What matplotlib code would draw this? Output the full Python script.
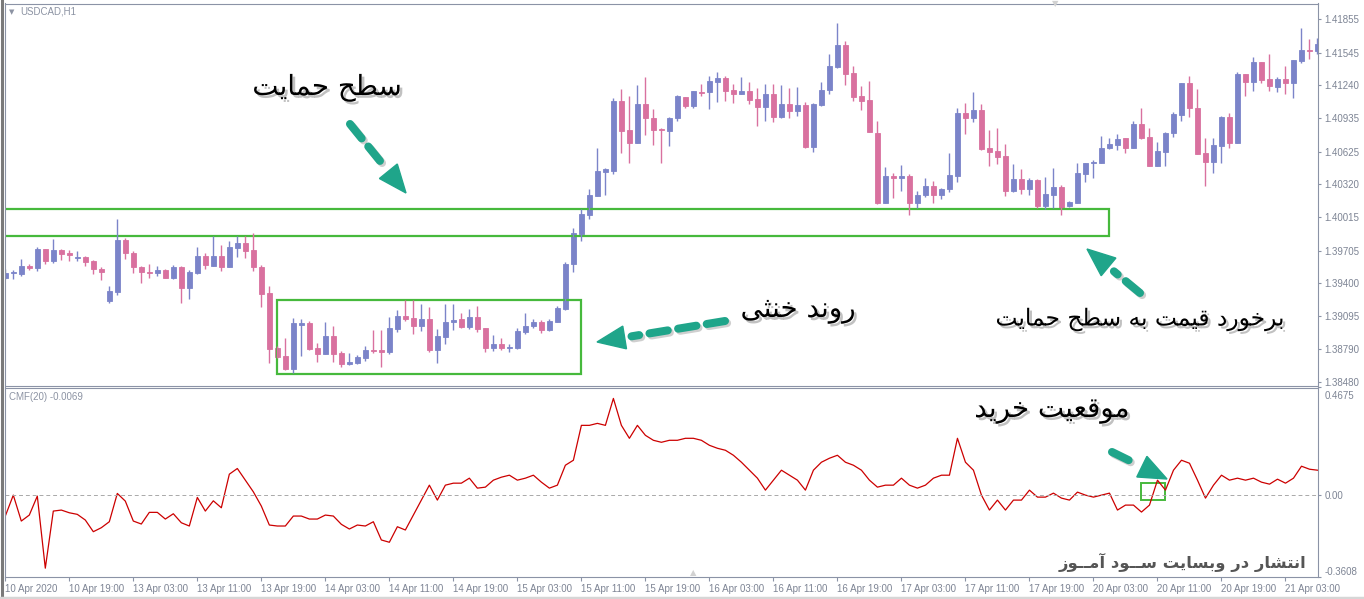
import matplotlib
matplotlib.use('Agg')
import matplotlib.pyplot as plt
import matplotlib.patheffects as pe
from matplotlib.lines import Line2D
from matplotlib.patches import Rectangle, Polygon
from matplotlib.transforms import ScaledTranslation
import numpy as np
import pandas as pd

# USDCAD H1 candles (10 Apr 11:00 .. 21 Apr 07:00)
opens = [1.39447, 1.39496, 1.39487, 1.39561, 1.39545, 1.39717, 1.39608, 1.39710, 1.39682, 1.39636,
         1.39648, 1.39610, 1.39533, 1.39238, 1.39322, 1.39803, 1.39679, 1.39552, 1.39505, 1.39499,
         1.39524, 1.39452, 1.39552, 1.39359, 1.39499, 1.39654, 1.39564, 1.39654, 1.39555, 1.39731,
         1.39775, 1.39710, 1.39552, 1.39310, 1.38796, 1.38727, 1.38606, 1.39015, 1.39031, 1.38799,
         1.38740, 1.38910, 1.38749, 1.38650, 1.38659, 1.38708, 1.38780, 1.38780, 1.38764, 1.38978,
         1.39096, 1.39078, 1.39006, 1.39068, 1.38780, 1.38904, 1.39043, 1.39065, 1.38997, 1.39090,
         1.38982, 1.38801, 1.38833, 1.38801, 1.38801, 1.38945, 1.39006, 1.39038, 1.38966, 1.39043,
         1.39161, 1.39577, 1.39859, 1.40036, 1.40215, 1.40438, 1.40445, 1.41098, 1.40826, 1.40708,
         1.41068, 1.40935, 1.40835, 1.40819, 1.40935, 1.41130, 1.41052, 1.41182, 1.41182, 1.41275,
         1.41307, 1.41195, 1.41164, 1.41186, 1.41114, 1.41043, 1.41158, 1.40950, 1.41065, 1.41006,
         1.41059, 1.40665, 1.41059, 1.41198, 1.41415, 1.41617, 1.41353, 1.41142, 1.41102, 1.40801,
         1.40150, 1.40395, 1.40382, 1.40395, 1.40150, 1.40219, 1.40302, 1.40222, 1.40277, 1.40401,
         1.40981, 1.40935, 1.41012, 1.40656, 1.40631, 1.40584, 1.40262, 1.40370, 1.40274, 1.40361,
         1.40119, 1.40222, 1.40293, 1.40122, 1.40150, 1.40417, 1.40516, 1.40522, 1.40656, 1.40687,
         1.40749, 1.40661, 1.40882, 1.40758, 1.40494, 1.40624, 1.40795, 1.40966, 1.41260, 1.41028,
         1.40609, 1.40531, 1.40680, 1.40950, 1.40708, 1.41344, 1.41275, 1.41456, 1.41300, 1.41229,
         1.41300, 1.41266, 1.41470, 1.41573, 1.41564]
highs = [1.39533, 1.39524, 1.39626, 1.39580, 1.39741, 1.39722, 1.39812, 1.39717, 1.39710, 1.39698,
         1.39654, 1.39617, 1.39555, 1.39372, 1.39998, 1.39819, 1.39701, 1.39564, 1.39577, 1.39558,
         1.39533, 1.39571, 1.39558, 1.39524, 1.39741, 1.39679, 1.39843, 1.39757, 1.39791, 1.39840,
         1.39840, 1.39871, 1.39568, 1.39372, 1.38817, 1.38889, 1.39075, 1.39071, 1.39050, 1.38842,
         1.39041, 1.39006, 1.38773, 1.38749, 1.38730, 1.38817, 1.38966, 1.38966, 1.39090, 1.39152,
         1.39245, 1.39245, 1.39205, 1.39183, 1.38972, 1.39208, 1.39205, 1.39121, 1.39158, 1.39192,
         1.38982, 1.38920, 1.38894, 1.38836, 1.38982, 1.39127, 1.39068, 1.39059, 1.39068, 1.39189,
         1.39601, 1.39912, 1.40089, 1.40280, 1.40661, 1.40470, 1.41121, 1.41207, 1.41142, 1.41245,
         1.41319, 1.41019, 1.40842, 1.40950, 1.41152, 1.41136, 1.41189, 1.41251, 1.41328, 1.41363,
         1.41331, 1.41254, 1.41319, 1.41275, 1.41219, 1.41254, 1.41254, 1.41245, 1.41219, 1.41229,
         1.41084, 1.41077, 1.41275, 1.41530, 1.41824, 1.41654, 1.41424, 1.41235, 1.41282, 1.40910,
         1.40485, 1.40423, 1.40500, 1.40417, 1.40259, 1.40382, 1.40352, 1.40289, 1.40609, 1.41033,
         1.41080, 1.41182, 1.41065, 1.40826, 1.40842, 1.40693, 1.40510, 1.40463, 1.40377, 1.40370,
         1.40386, 1.40470, 1.40315, 1.40166, 1.40522, 1.40516, 1.40547, 1.40770, 1.40754, 1.40789,
         1.40749, 1.40910, 1.41033, 1.40842, 1.40717, 1.40810, 1.40991, 1.41260, 1.41328, 1.41207,
         1.40749, 1.40749, 1.40959, 1.40981, 1.41363, 1.41344, 1.41502, 1.41456, 1.41530, 1.41316,
         1.41421, 1.41477, 1.41772, 1.41670, 1.41679]
lows = [1.39440, 1.39443, 1.39468, 1.39524, 1.39517, 1.39580, 1.39592, 1.39617, 1.39608, 1.39608,
        1.39564, 1.39490, 1.39434, 1.39220, 1.39294, 1.39629, 1.39499, 1.39406, 1.39452, 1.39465,
        1.39452, 1.39440, 1.39220, 1.39254, 1.39490, 1.39533, 1.39564, 1.39517, 1.39555, 1.39648,
        1.39638, 1.39515, 1.39183, 1.38662, 1.38706, 1.38594, 1.38563, 1.38727, 1.38777, 1.38671,
        1.38740, 1.38671, 1.38625, 1.38640, 1.38650, 1.38680, 1.38749, 1.38619, 1.38743, 1.38950,
        1.39052, 1.38929, 1.38959, 1.38764, 1.38662, 1.38836, 1.38966, 1.38982, 1.38975, 1.38950,
        1.38759, 1.38773, 1.38780, 1.38759, 1.38787, 1.38926, 1.38988, 1.38935, 1.38959, 1.39038,
        1.39152, 1.39503, 1.39794, 1.39998, 1.40215, 1.40222, 1.40420, 1.40609, 1.40516, 1.40702,
        1.40780, 1.40687, 1.40516, 1.40680, 1.40910, 1.41028, 1.41028, 1.41142, 1.41021, 1.41084,
        1.41096, 1.41074, 1.41158, 1.41065, 1.40866, 1.40910, 1.40903, 1.40935, 1.40935, 1.40959,
        1.40656, 1.40624, 1.41052, 1.41158, 1.41400, 1.41245, 1.41096, 1.41012, 1.40805, 1.40141,
        1.40145, 1.40196, 1.40259, 1.40036, 1.40103, 1.40200, 1.40150, 1.40182, 1.40247, 1.40340,
        1.40786, 1.40903, 1.40640, 1.40494, 1.40507, 1.40215, 1.40247, 1.40228, 1.40222, 1.40103,
        1.40091, 1.40103, 1.40036, 1.40113, 1.40145, 1.40343, 1.40382, 1.40516, 1.40647, 1.40640,
        1.40609, 1.40661, 1.40742, 1.40494, 1.40494, 1.40494, 1.40763, 1.40910, 1.40950, 1.40600,
        1.40308, 1.40423, 1.40516, 1.40661, 1.40702, 1.41145, 1.41189, 1.41260, 1.41192, 1.41182,
        1.41161, 1.41126, 1.41446, 1.41484, 1.41530]
closes = [1.39499, 1.39503, 1.39561, 1.39543, 1.39719, 1.39608, 1.39710, 1.39676, 1.39661, 1.39642,
          1.39601, 1.39530, 1.39508, 1.39329, 1.39803, 1.39679, 1.39549, 1.39503, 1.39499, 1.39524,
          1.39452, 1.39549, 1.39359, 1.39505, 1.39654, 1.39571, 1.39654, 1.39555, 1.39738, 1.39775,
          1.39703, 1.39549, 1.39304, 1.38792, 1.38718, 1.38606, 1.39028, 1.39028, 1.38792, 1.38740,
          1.38910, 1.38743, 1.38650, 1.38668, 1.38712, 1.38780, 1.38771, 1.38764, 1.38985, 1.39093,
          1.39068, 1.39006, 1.39068, 1.38780, 1.38910, 1.39041, 1.39059, 1.38997, 1.39090, 1.38972,
          1.38801, 1.38833, 1.38796, 1.38808, 1.38957, 1.39006, 1.39038, 1.38966, 1.39050, 1.39173,
          1.39583, 1.39865, 1.40042, 1.40219, 1.40445, 1.40463, 1.41098, 1.40817, 1.40708, 1.41068,
          1.40935, 1.40826, 1.40823, 1.40935, 1.41142, 1.41052, 1.41186, 1.41173, 1.41282, 1.41307,
          1.41192, 1.41164, 1.41186, 1.41108, 1.41043, 1.41158, 1.40950, 1.41065, 1.41006, 1.41059,
          1.40665, 1.41065, 1.41198, 1.41421, 1.41617, 1.41350, 1.41136, 1.41098, 1.40805, 1.40150,
          1.40398, 1.40382, 1.40395, 1.40150, 1.40219, 1.40302, 1.40222, 1.40277, 1.40407, 1.40981,
          1.40935, 1.41012, 1.40649, 1.40624, 1.40578, 1.40262, 1.40370, 1.40274, 1.40361, 1.40119,
          1.40228, 1.40293, 1.40098, 1.40159, 1.40423, 1.40516, 1.40531, 1.40656, 1.40693, 1.40742,
          1.40661, 1.40882, 1.40754, 1.40494, 1.40631, 1.40801, 1.40975, 1.41260, 1.41028, 1.40600,
          1.40531, 1.40687, 1.40950, 1.40708, 1.41344, 1.41275, 1.41456, 1.41291, 1.41238, 1.41300,
          1.41266, 1.41477, 1.41570, 1.41564, 1.41623]

# Chaikin money flow (20)
cmf = [-0.0935, -0.0022, -0.1153, -0.0892, -0.0065, -0.3210, -0.0718, -0.0674, -0.0792, -0.0861,
       -0.1109, -0.1618, -0.1444, -0.1183, 0.0052, -0.0283, -0.1153, -0.1283, -0.0774, -0.0774,
       -0.1066, -0.0835, -0.1227, -0.1370, -0.0122, -0.0718, -0.0270, -0.0574, 0.0892, 0.1140,
       0.0631, 0.0122, -0.0500, -0.1327, -0.1370, -0.1370, -0.0935, -0.0935, -0.1066, -0.1066,
       -0.0892, -0.0935, -0.1296, -0.1501, -0.1327, -0.1370, -0.1183, -0.1979, -0.2079, -0.1401,
       -0.1544, -0.0892, -0.0239, 0.0413, -0.0239, 0.0413, 0.0500, 0.0500, 0.0718, 0.0283,
       0.0326, 0.0631, 0.0761, 0.0848, 0.0631, 0.0718, 0.0848, 0.0544, 0.0283, 0.0413,
       0.1283, 0.1501, 0.3023, 0.3023, 0.3110, 0.3023, 0.4198, 0.3023, 0.2458, 0.3023,
       0.2588, 0.2371, 0.2284, 0.2371, 0.2371, 0.2458, 0.2458, 0.2371, 0.2153, 0.2023,
       0.1936, 0.1718, 0.1414, 0.1066, 0.0718, 0.0196, 0.0631, 0.1066, 0.0848, 0.0631,
       0.0196, 0.1066, 0.1414, 0.1588, 0.1718, 0.1414, 0.1283, 0.1066, 0.0631, 0.0326,
       0.0413, 0.0413, 0.0718, 0.0413, 0.0283, 0.0413, 0.0718, 0.0848, 0.0848, 0.2458,
       0.1414, 0.1066, -0.0022, -0.0674, -0.0239, -0.0674, -0.0239, -0.0239, 0.0196, -0.0109,
       -0.0109, 0.0065, -0.0152, -0.0239, 0.0109, -0.0022, -0.0109, -0.0022, 0.0065, -0.0674,
       -0.0457, -0.0457, -0.0761, -0.0457, 0.0631, 0.0196, 0.1066, 0.1501, 0.1370, 0.0631,
       -0.0152, 0.0413, 0.0848, 0.0631, 0.0718, 0.0631, 0.0718, 0.0544, 0.0457, 0.0674,
       0.0500, 0.0718, 0.1240, 0.1109, 0.1066]

price_ticks = [1.38480, 1.38790, 1.39095, 1.39400, 1.39705, 1.40015,
               1.40320, 1.40625, 1.40935, 1.41240, 1.41545, 1.41855]
cmf_ticks = [-0.3608, 0.0, 0.4675]
cmf_tick_labels = ['-0.3608', '0.00', '0.4675']

# annotation boxes: support zone and range box (bar index, price)
support_zone = (137.9, 1.39840, 1.40091)
range_box = (33.96, 72.0, 1.38554, 1.39245)
buy_box = (141.9, 145.0, -0.024, 0.050)

labels_fa = {
    'support': 'سطح حمایت',
    'range': 'روند خنثی',
    'touch': 'برخورد قیمت به سطح حمایت',
    'buy': 'موقعیت خرید',
    'site': 'انتشار در وبسایت ســود آمــوز',
}

# --- minimal Persian shaping (matplotlib has no bidi / joining) ---
FORMS = {
    'ا': '\ufe8d\ufe8e', 'آ': '\ufe81\ufe82', 'د': '\ufea9\ufeaa', 'ر': '\ufead\ufeae',
    'ز': '\ufeaf\ufeb0', 'و': '\ufeed\ufeee',
    'ب': '\ufe8f\ufe90\ufe91\ufe92', 'ت': '\ufe95\ufe96\ufe97\ufe98',
    'ث': '\ufe99\ufe9a\ufe9b\ufe9c', 'ح': '\ufea1\ufea2\ufea3\ufea4',
    'خ': '\ufea5\ufea6\ufea7\ufea8', 'س': '\ufeb1\ufeb2\ufeb3\ufeb4',
    'ش': '\ufeb5\ufeb6\ufeb7\ufeb8', 'ط': '\ufec1\ufec2\ufec3\ufec4',
    'ع': '\ufec9\ufeca\ufecb\ufecc', 'ق': '\ufed5\ufed6\ufed7\ufed8',
    'م': '\ufee1\ufee2\ufee3\ufee4', 'ن': '\ufee5\ufee6\ufee7\ufee8',
    'ه': '\ufee9\ufeea\ufeeb\ufeec', 'ی': '\ufbfc\ufbfd\ufbfe\ufbff',
    'ـ': 'ــــ',
}


def shape(s):
    out = []
    for k, ch in enumerate(s):
        f = FORMS.get(ch)
        if f is None:
            out.append(ch)
            continue
        prev = s[k - 1] if k > 0 else ''
        nxt = s[k + 1] if k + 1 < len(s) else ''
        jp = prev in FORMS and len(FORMS[prev]) == 4
        jn = len(f) == 4 and nxt in FORMS
        idx = 3 if (jp and jn) else 2 if jn else 1 if jp else 0
        out.append(f[idx])
    return ''.join(out)[::-1]


W, H = 1364, 599
BULL, BEAR = '#7b84c9', '#d9719f'
GREEN = '#46b93c'
TEAL = '#1fa58a'
AXC = '#8b93a6'
TXC = '#7d8494'

fig = plt.figure(figsize=(W / 100, H / 100), dpi=100, facecolor='white')


def fx(x):
    return x / W


def fy(y):
    return 1 - y / H


ax1 = fig.add_axes([fx(4.5), fy(385.5), fx(1318.3 - 4.5), fy(3.5) - fy(385.5)])
ax2 = fig.add_axes([fx(4.5), fy(577.3), fx(1318.3 - 4.5), fy(387.5) - fy(577.3)])

o = np.array(opens); h = np.array(highs); l = np.array(lows); c = np.array(closes)
x = np.arange(len(o))
col = np.where(c >= o, BULL, BEAR)

ax1.vlines(x, l, h, colors=col, linewidth=1.0)
ax1.bar(x, np.abs(c - o), bottom=np.minimum(o, c), width=0.55, color=col,
        edgecolor=col, linewidth=0.6)

ax1.set_xlim(-0.1, 164.1)
ax1.set_ylim(1.38450, 1.42002)
ax1.set_yticks(price_ticks)
ax1.set_yticklabels([f'{v:.5f}' for v in price_ticks])

# support zone + range box
ax1.add_patch(Rectangle((-1, support_zone[1]), support_zone[0] + 1,
                        support_zone[2] - support_zone[1], fill=False,
                        edgecolor=GREEN, linewidth=1.6))
ax1.add_patch(Rectangle((range_box[0], range_box[2]), range_box[1] - range_box[0],
                        range_box[3] - range_box[2], fill=False,
                        edgecolor=GREEN, linewidth=1.6))

# CMF panel
ax2.plot(x, cmf, color='#cc0000', linewidth=0.9)
ax2.axhline(0, color='#a9a9a9', linewidth=0.7, dashes=(4, 3))
ax2.add_patch(Rectangle((buy_box[0], buy_box[2]), buy_box[1] - buy_box[0],
                        buy_box[3] - buy_box[2], fill=False,
                        edgecolor=GREEN, linewidth=1.4))
ax2.set_xlim(-0.1, 164.1)
ax2.set_ylim(-0.3608, 0.4675)
ax2.set_yticks(cmf_ticks)
ax2.set_yticklabels(cmf_tick_labels)

# time axis, weekend hours skipped
times = pd.date_range('2020-04-10 11:00', periods=300, freq='h')
times = times[times.dayofweek < 5][:len(o)]
xt = list(range(0, len(o), 8))
xl = ['10 Apr 2020'] + [times[i].strftime('%d %b %H:%M') for i in xt[1:]]
ax2.set_xticks(xt)
ax2.set_xticklabels(xl)

for ax in (ax1, ax2):
    for s in ax.spines.values():
        s.set_color(AXC)
        s.set_linewidth(0.8)
    ax.yaxis.tick_right()
    ax.tick_params(axis='y', right=True, left=False, length=2.5, width=0.8,
                   color=AXC, labelcolor=TXC, labelsize=7, pad=2)
ax1.tick_params(axis='x', bottom=False, labelbottom=False)
ax2.tick_params(axis='x', length=3, width=0.8, color=AXC, labelcolor=TXC,
                labelsize=7, pad=1.5)

for lab in ax1.get_yticklabels() + ax2.get_yticklabels() + ax2.get_xticklabels():
    lab.set_family('Liberation Sans')
for lab in ax2.get_xticklabels():
    lab.set_ha('left')
tl = ax2.get_yticklabels()
tl[0].set_va('bottom')
tl[2].set_va('top')
tl[2].set_transform(tl[2].get_transform() +
                    ScaledTranslation(0, -3.5 / 100, fig.dpi_scale_trans))

# panel captions
fig.text(fx(9), fy(12), '▼', fontsize=5, color='#8c93a3', va='center')
fig.text(fx(20), fy(12), 'USDCAD,H1', fontsize=7, color='#8c93a3', va='center',
         family='Liberation Sans')
fig.text(fx(9), fy(397), 'CMF(20) -0.0069', fontsize=7, color='#8c93a3', va='center',
         family='Liberation Sans')
# chart shift markers
fig.text(fx(1055), fy(4), '▼', fontsize=6, color='#d2d2d2', ha='center', va='center')
fig.text(fx(693), fy(573), '▲', fontsize=6, color='#d2d2d2', ha='center', va='center')

# window frame
fig.add_artist(Line2D([1.5, 1.5], [0, H], transform=None, color='#7a7a7a', lw=2.2))
fig.add_artist(Line2D([0, W], [1.5, 1.5], transform=None, color='#d6d6d6', lw=2.5))

# persian captions with shadow
shadow = [pe.SimplePatchShadow(offset=(2, -2), shadow_rgbFace='#777777', alpha=0.45),
          pe.Normal()]
fa = ['DejaVu Sans']


def fa_text(key, xc, yc, size, **kw):
    fig.text(fx(xc), fy(yc), shape(labels_fa[key]), fontsize=size, ha='center',
             va='center', family=fa, path_effects=shadow, **kw)


fa_text('support', 327, 88, 20, color='black')
fa_text('range', 798, 310, 20, color='black')
fa_text('touch', 1140, 320, 16.8, color='black')
fa_text('buy', 1052, 410, 20, color='black')
fig.text(fx(1183), fy(562), shape(labels_fa['site']), fontsize=11.8, ha='center',
         va='center', family=fa, color='#555555', fontweight='bold')


def dash_arrow(x0, y0, x1, y1):
    p0 = np.array([x0, H - y0], float)
    p1 = np.array([x1, H - y1], float)
    u = (p1 - p0) / np.hypot(*(p1 - p0))
    n = np.array([-u[1], u[0]])
    hl, hw = 28, 11.5
    base = p1 - u * hl
    line_pe = [pe.SimpleLineShadow(offset=(1.5, -1.5), shadow_color='#888888', alpha=0.4),
               pe.Normal()]
    end = base - u * 7
    fig.add_artist(Line2D([p0[0], end[0]], [p0[1], end[1]],
                          transform=None, color=TEAL, lw=5.8, dashes=(2.3, 1.3),
                          dash_capstyle='round', path_effects=line_pe))
    fig.add_artist(Polygon([p1, base + n * hw, base - n * hw], closed=True,
                           transform=None, color=TEAL))


dash_arrow(350, 124, 406, 193)
dash_arrow(725, 321, 597, 342)
dash_arrow(1140, 293, 1087, 249)
dash_arrow(1112, 452, 1167, 479)

fig.savefig('out.png', dpi=100, facecolor='white')
